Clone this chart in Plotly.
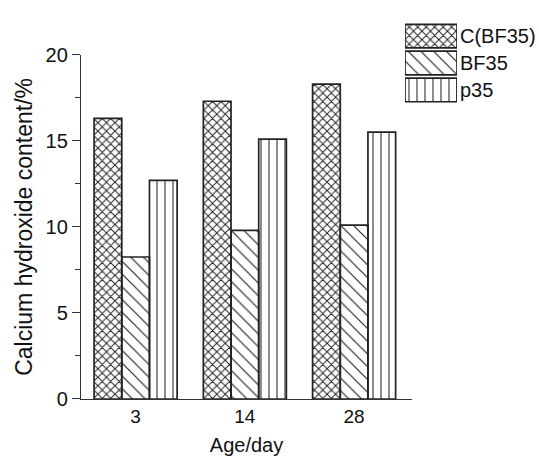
import plotly.graph_objects as go

ages = ["3", "14", "28"]
series_names = ["C(BF35)", "BF35", "p35"]
c_bf35 = [16.3, 17.3, 18.3]
bf35 = [8.25, 9.8, 10.1]
p35 = [12.7, 15.1, 15.5]
y_ticks = [0, 5, 10, 15, 20]

patterns = {"C(BF35)": ("x", 6, 0.3), "BF35": ("\\", 9, 0.13), "p35": ("|", 8, 0.13)}
values = {"C(BF35)": c_bf35, "BF35": bf35, "p35": p35}

FONT = "Liberation Sans, Arial, sans-serif"
fig = go.Figure()
for name in series_names:
    shp, sz, sol = patterns[name]
    fig.add_trace(go.Bar(
        x=ages, y=values[name], name=name, showlegend=False,
        marker=dict(color="white", line=dict(color="#222", width=1.7),
                    pattern=dict(shape=shp, size=sz, solidity=sol,
                                 fgcolor="#222", fgopacity=1, fillmode="replace")),
    ))

# legend swatches drawn as bars on a small auxiliary axis
fig.add_trace(go.Bar(
    x=[1, 1, 1], y=series_names, orientation="h", xaxis="x2", yaxis="y2",
    width=0.88, showlegend=False, hoverinfo="skip",
    marker=dict(color="white", line=dict(color="#222", width=1.7),
                pattern=dict(shape=[patterns[n][0] for n in series_names],
                             size=[patterns[n][1] for n in series_names],
                             solidity=[patterns[n][2] for n in series_names],
                             fgcolor="#222", fgopacity=1, fillmode="replace")),
))
for name in series_names:
    fig.add_annotation(x=1, y=name, xref="x2", yref="y2", text=name,
                       showarrow=False, xanchor="left", xshift=1,
                       font=dict(family=FONT, size=20, color="#111"))

fig.update_layout(
    width=539, height=458,
    margin=dict(l=81, r=0, t=0, b=59),
    paper_bgcolor="white", plot_bgcolor="white",
    barmode="group", bargap=0.24, bargroupgap=0,
    font=dict(family=FONT, color="#111"),
    xaxis=dict(domain=[0, 0.7227], range=[-0.5, 2.53], showline=True,
               linecolor="#333", linewidth=1.3, ticks="", showgrid=False,
               tickfont=dict(size=19), zeroline=False,
               title=dict(text="Age/day", font=dict(size=20), standoff=12)),
    yaxis=dict(domain=[0, 0.8872], range=[0, 20], tickvals=y_ticks,
               showline=True, linecolor="#333", linewidth=1.3,
               ticks="outside", ticklen=8, tickwidth=1.3, tickcolor="#333",
               minor=dict(dtick=2.5, ticks="outside", ticklen=5, tickwidth=1.3, tickcolor="#333"),
               showgrid=False, zeroline=False, tickfont=dict(size=20),
               title=dict(text="Calcium hydroxide content/%", font=dict(size=23), standoff=6)),
    xaxis2=dict(domain=[0.7074, 0.821], range=[0, 1], visible=False, anchor="y2"),
    yaxis2=dict(domain=[0.7619, 0.9699], range=[2.5, -0.5], visible=False, anchor="x2",
                categoryorder="array", categoryarray=series_names),
)
fig.write_html("out.html")
